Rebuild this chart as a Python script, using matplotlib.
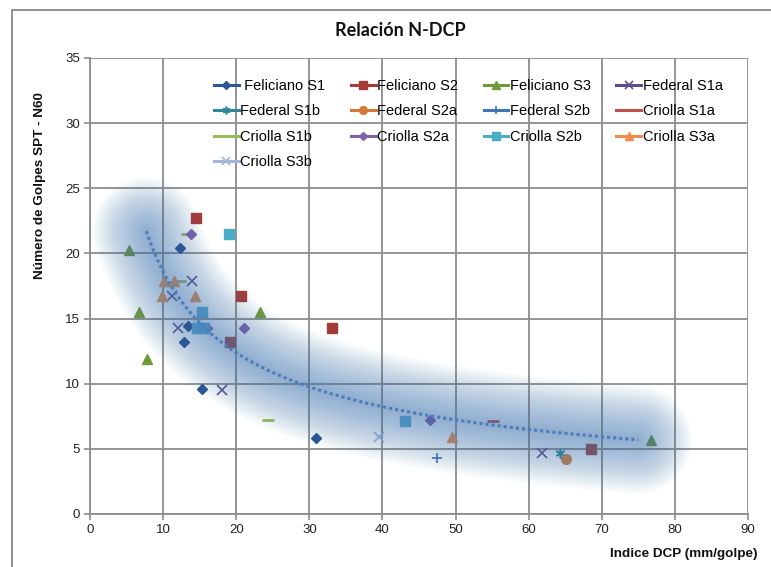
import numpy as np
import matplotlib
matplotlib.use("Agg")
import matplotlib.pyplot as plt
from matplotlib.lines import Line2D
from matplotlib.patches import Rectangle

# ---- data ----
fel_s1_x = [12.3, 13.4, 12.9, 15.3, 30.9]
fel_s1_y = [20.4, 14.4, 13.2, 9.6, 5.8]
fel_s2_x = [14.5, 20.6, 33.1, 19.1, 68.5]
fel_s2_y = [22.7, 16.7, 14.3, 13.2, 5.0]
fel_s3_x = [5.4, 6.7, 7.75, 23.2, 76.8]
fel_s3_y = [20.3, 15.5, 11.9, 15.5, 5.7]
fed_s1a_x = [11.2, 12.0, 14.0, 18.1, 61.8]
fed_s1a_y = [16.7, 14.3, 17.9, 9.5, 4.7]
fed_s1b_x = [64.3]
fed_s1b_y = [4.7]
fed_s2a_x = [65.1]
fed_s2a_y = [4.2]
fed_s2b_x = [47.5]
fed_s2b_y = [4.3]
cri_s1a_x = [55.1]
cri_s1a_y = [7.1]
cri_s1b_x = [12.3, 13.2, 24.4]
cri_s1b_y = [17.9, 21.5, 7.2]
cri_s2a_x = [13.8, 21.1, 16.0, 46.5]
cri_s2a_y = [21.5, 14.3, 14.3, 7.2]
cri_s2b_x = [19.0, 15.3, 14.6, 15.6, 43.1]
cri_s2b_y = [21.5, 15.5, 14.3, 14.3, 7.1]
cri_s3a_x = [10.1, 11.5, 9.9, 14.4, 49.5]
cri_s3a_y = [17.9, 17.9, 16.7, 16.7, 5.9]
cri_s3b_x = [39.5]
cri_s3b_y = [5.9]

series_names = [" Feliciano S1", "Feliciano S2", "Feliciano S3", "Federal S1a",
                "Federal S1b", "Federal S2a", "Federal S2b", "Criolla S1a",
                "Criolla S1b", "Criolla S2a", "Criolla S2b", "Criolla S3a",
                "Criolla S3b"]

# power trendline: y = a * x^b
trend_a = 72.1
trend_b = -0.588
trend_x_range = [7.7, 75.0]

x_ticks = [0, 10, 20, 30, 40, 50, 60, 70, 80, 90]
y_ticks = [0, 5, 10, 15, 20, 25, 30, 35]

# ---- styles ----
styles = [
    dict(marker="D", color="#2B5797", ms=5.5),
    dict(marker="s", color="#A33B39", ms=6.5),
    dict(marker="^", color="#6E9A3A", ms=6.5),
    dict(marker="x", color="#5F4B8B", ms=6.5, mew=1.2),
    dict(marker=(6, 2, 0), color="#31859C", ms=7, mew=1.2),
    dict(marker="o", color="#D07A3C", ms=7),
    dict(marker="+", color="#3E74B8", ms=7, mew=1.2),
    dict(marker="_", color="#C0504D", ms=8, mew=2),
    dict(marker="_", color="#9BBB59", ms=8, mew=2),
    dict(marker="D", color="#7F62A8", ms=5.5),
    dict(marker="s", color="#4BACC6", ms=7.5),
    dict(marker="^", color="#F08C4A", ms=6.5),
    dict(marker="x", color="#A3B6DA", ms=6.5, mew=1.2),
]
xs = [fel_s1_x, fel_s2_x, fel_s3_x, fed_s1a_x, fed_s1b_x, fed_s2a_x, fed_s2b_x,
      cri_s1a_x, cri_s1b_x, cri_s2a_x, cri_s2b_x, cri_s3a_x, cri_s3b_x]
ys = [fel_s1_y, fel_s2_y, fel_s3_y, fed_s1a_y, fed_s1b_y, fed_s2a_y, fed_s2b_y,
      cri_s1a_y, cri_s1b_y, cri_s2a_y, cri_s2b_y, cri_s3a_y, cri_s3b_y]

W, H = 771, 567
fig = plt.figure(figsize=(W / 100, H / 100), dpi=100)
ax = fig.add_axes([90 / W, 1 - 514 / H, (748 - 90) / W, (514 - 58) / H])

grid_c = "#8C8C8C"
ax.set_xlim(0, 90)
ax.set_ylim(0, 35)
ax.set_xticks(x_ticks)
ax.set_yticks(y_ticks)
ax.grid(True, color=grid_c, lw=1.3, zorder=0)
ax.set_axisbelow(True)
for s in ["top", "right"]:
    ax.spines[s].set_visible(False)
for s in ["left", "bottom"]:
    ax.spines[s].set_color(grid_c)
    ax.spines[s].set_linewidth(1.3)
ax.tick_params(axis="both", direction="out", length=4, color=grid_c, width=1.2,
               labelsize=9.5, labelcolor="#222222", pad=3)
for lab in ax.get_xticklabels() + ax.get_yticklabels():
    lab.set_family("Liberation Sans")

handles = []
for name, x, y, st in zip(series_names, xs, ys, styles):
    st = dict(st)
    mew = st.pop("mew", 1.0)
    ax.plot(x, y, linestyle="none", marker=st["marker"], ms=st["ms"],
            color=st["color"], mec=st["color"], mew=mew, zorder=3)
    handles.append(Line2D([0], [0], color=st["color"], lw=2.2, marker=st["marker"],
                          ms=st["ms"] * 0.8, mec=st["color"], mew=mew, label=name))

# trendline with glow
tx = np.linspace(trend_x_range[0], trend_x_range[1], 300)
ty = trend_a * tx ** trend_b
n_layers = 34
for w in np.linspace(108, 4, n_layers):
    ax.plot(tx, ty, color="#4F81BD", lw=w * 0.72, alpha=0.024,
            solid_capstyle="round", solid_joinstyle="round", zorder=4)
ax.plot(tx, ty, color="#4A7EBB", lw=2.2, linestyle=(0, (1, 1)),
        dash_capstyle="butt", zorder=5)

# legend filled row by row (4 columns)
ncol = 4
order = [i for c in range(ncol) for i in range(c, len(handles), ncol)]
leg = ax.legend(handles=[handles[i] for i in order], ncol=ncol, loc="upper left",
                bbox_to_anchor=(214 / W, 1 - 79 / H), bbox_transform=fig.transFigure,
                frameon=False, borderpad=0, borderaxespad=0, handlelength=1.7,
                handletextpad=0.1, columnspacing=1.75, labelspacing=0.78,
                prop={"family": "Liberation Sans", "size": 10.5}, numpoints=1)
leg.set_zorder(6)

fig.text(400 / W, 1 - 31 / H, "Relación N-DCP", ha="center", va="center",
         fontsize=13, fontweight="bold", family="Lato", color="#111111")
fig.text(40 / W, 1 - 186 / H, "Número de Golpes SPT - N60", ha="center", va="center",
         rotation=90, fontsize=9.7, fontweight="bold", family="Liberation Sans",
         color="#111111")
fig.text(758 / W, 1 - 554 / H, "Indice DCP (mm/golpe)", ha="right", va="center",
         fontsize=9.7, fontweight="bold", family="Liberation Sans", color="#111111")

# outer chart frame
fig.patches.append(Rectangle((12 / W, -0.1), 1.2, 1 - 10 / H + 0.1,
                             transform=fig.transFigure, fill=False,
                             edgecolor="#7F7F7F", lw=1.2))

fig.savefig("out.png", dpi=100)
